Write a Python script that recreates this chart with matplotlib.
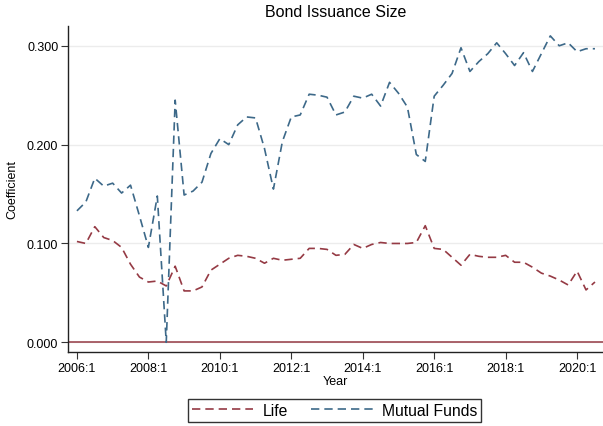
import matplotlib
matplotlib.use('Agg')
import matplotlib.pyplot as plt
import numpy as np

plt.rcParams['font.family'] = ['Liberation Sans', 'DejaVu Sans']

# quarterly coefficients 2006:1 - 2020:3
life = [0.102, 0.100, 0.117, 0.106, 0.103, 0.096, 0.079, 0.066, 0.061, 0.062,
        0.057, 0.077, 0.052, 0.052, 0.056, 0.073, 0.079, 0.085, 0.088, 0.087,
        0.085, 0.080, 0.085, 0.083, 0.084, 0.085, 0.095, 0.095, 0.094, 0.088,
        0.089, 0.099, 0.095, 0.099, 0.101, 0.100, 0.100, 0.100, 0.101, 0.118,
        0.095, 0.094, 0.086, 0.078, 0.089, 0.087, 0.086, 0.086, 0.088, 0.081,
        0.081, 0.076, 0.070, 0.067, 0.063, 0.058, 0.072, 0.053, 0.061]
mutual = [0.133, 0.142, 0.166, 0.158, 0.161, 0.151, 0.159, 0.128, 0.096, 0.148,
          0.000, 0.245, 0.149, 0.153, 0.162, 0.191, 0.206, 0.200, 0.220, 0.228,
          0.227, 0.196, 0.155, 0.203, 0.228, 0.230, 0.251, 0.250, 0.248, 0.230,
          0.233, 0.249, 0.247, 0.251, 0.239, 0.263, 0.252, 0.238, 0.190, 0.183,
          0.249, 0.260, 0.272, 0.298, 0.274, 0.284, 0.292, 0.303, 0.292, 0.280,
          0.293, 0.274, 0.292, 0.310, 0.300, 0.303, 0.294, 0.297, 0.297]
tick_labels = ['2006:1', '2008:1', '2010:1', '2012:1', '2014:1', '2016:1', '2018:1', '2020:1']
yticks = [0.0, 0.1, 0.2, 0.3]

red = '#953a44'
blue = '#3d6989'

q = np.arange(len(life))

fig = plt.figure(figsize=(6.03, 4.27), dpi=100)
ax = fig.add_axes([68/603, 1 - 353/427, 535/603, 326/427])

ax.axhline(0, color=red, lw=1.1, zorder=1)
ax.plot(q, life, color=red, lw=1.2, dashes=(5, 3), label='Life', zorder=3)
ax.plot(q, mutual, color=blue, lw=1.2, dashes=(5, 3), label='Mutual Funds', zorder=3)

ax.set_xlim(-1.0, 58.9)
ax.set_ylim(-0.0098, 0.320)
ax.set_xticks(np.arange(0, 57, 8))
ax.set_xticklabels(tick_labels, fontsize=9)
ax.set_yticks(yticks)
ax.set_yticklabels(['%.3f' % v for v in yticks], fontsize=9)
ax.tick_params(direction='out', length=5, width=0.8, color='#333333', pad=2)
ax.grid(axis='y', color='#ececec', lw=1.0)
ax.set_axisbelow(True)
for s in ['top', 'right']:
    ax.spines[s].set_visible(False)
for s in ['left', 'bottom']:
    ax.spines[s].set_linewidth(1.0)
    ax.spines[s].set_color('#222222')

ax.set_title('Bond Issuance Size', fontsize=11.5, pad=7)
ax.set_xlabel('Year', fontsize=9, labelpad=1)
ax.set_ylabel('Coefficient', fontsize=9, labelpad=6)

leg = fig.legend(loc='upper center', bbox_to_anchor=(0.555, 1 - 400/427), ncol=2,
                 fontsize=11.3, frameon=True, fancybox=False, edgecolor='black',
                 handlelength=3.9, handletextpad=0.6, columnspacing=1.5,
                 borderpad=0.25, borderaxespad=0)
leg.get_frame().set_linewidth(1.0)

fig.savefig('out.png', dpi=100)
